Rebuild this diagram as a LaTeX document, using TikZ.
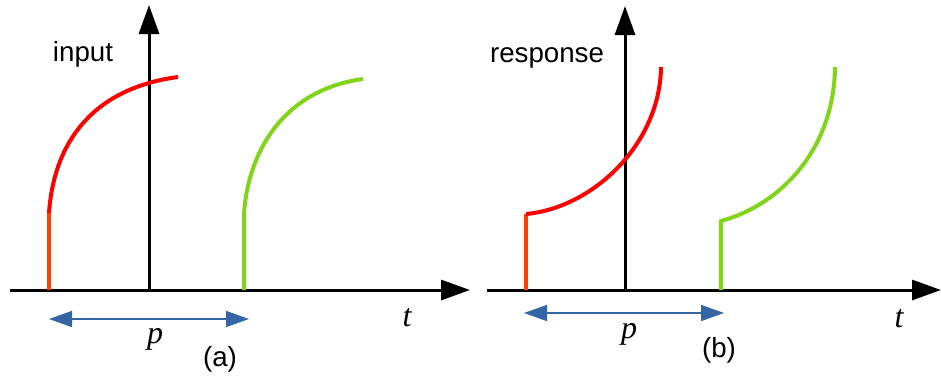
\documentclass[tikz,border=0pt]{standalone}
\usepackage{fontspec}
\setmainfont{Liberation Sans}
\newfontfamily\tmsfont{Liberation Serif}
\usetikzlibrary{arrows.meta}
\definecolor{cred}{HTML}{FF0000}
\definecolor{cored}{HTML}{FF4000}
\definecolor{cgreen}{HTML}{81D41A}
\definecolor{cblue}{HTML}{3465A4}
\tikzset{
  axis/.style={line width=3pt,-{Triangle[length=29pt,width=20pt]}},
  curve/.style={line width=4pt},
  period/.style={cblue,line width=1.5pt,{Triangle[length=23pt,width=16pt]}-{Triangle[length=23pt,width=16pt]}},
  lbl/.style={inner sep=0pt,font=\fontsize{27.7}{30}\selectfont},
  var/.style={inner sep=0pt,font=\fontsize{32}{34}\selectfont\tmsfont\itshape},
}
\begin{document}
\begin{tikzpicture}[x=1pt,y=-1pt]
\useasboundingbox (0,0) rectangle (941,378);
% ---------- panel (a)
\coordinate (ax0) at (10,290);
\coordinate (ax1) at (470,290);
\coordinate (ay0) at (149,290);
\coordinate (ay1) at (149,5);
\draw[axis] (ax0) -- (ax1);
\draw[axis] (ay0) -- (ay1);
\coordinate (ra0) at (49,290);
\coordinate (ra1) at (49,213);
\coordinate (ra2) at (178,77);
\draw[curve,cored] (ra0) -- (ra1);
\draw[curve,cred] (ra1) .. controls (54,140) and (95,88) .. (ra2);
\coordinate (ga0) at (244,290);
\coordinate (ga1) at (244,213);
\coordinate (ga2) at (363,79);
\draw[curve,cgreen] (ga0) -- (ga1) .. controls (249,146) and (288,89) .. (ga2);
\coordinate (pa0) at (49,319);
\coordinate (pa1) at (249,319);
\draw[period] (pa0) -- (pa1);
\node[lbl] (input) at (83,54) {input};
\node[var] (pa) at (155,339) {p};
\node[var] (ta) at (407,318) {t};
\node[lbl] (capa) at (220,359) {(a)};
% ---------- panel (b)
\coordinate (bx0) at (487,290);
\coordinate (bx1) at (941,290);
\coordinate (by0) at (625,290);
\coordinate (by1) at (625,6);
\draw[axis] (bx0) -- (bx1);
\draw[axis] (by0) -- (by1);
\coordinate (rb0) at (526,290);
\coordinate (rb1) at (526,214);
\coordinate (rb2) at (661,67);
\draw[curve,cored] (rb0) -- (rb1);
\draw[curve,cred] (rb1) .. controls (592,208) and (660,145) .. (rb2);
\coordinate (gb0) at (721,290);
\coordinate (gb1) at (721,221);
\coordinate (gb2) at (835,67);
\draw[curve,cgreen] (gb0) -- (gb1) .. controls (780,205) and (834,150) .. (gb2);
\coordinate (pb0) at (524,313);
\coordinate (pb1) at (724,313);
\draw[period] (pb0) -- (pb1);
\node[lbl] (resp) at (547,58) {response};
\node[var] (pb) at (629,334) {p};
\node[var] (tb) at (899,319) {t};
\node[lbl] (capb) at (719,350) {(b)};
\end{tikzpicture}
\end{document}
